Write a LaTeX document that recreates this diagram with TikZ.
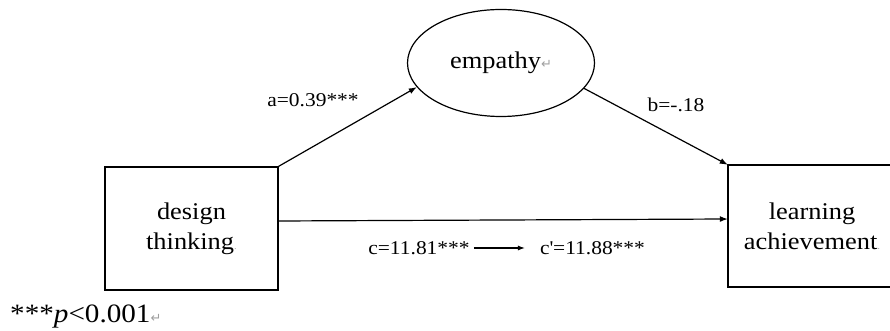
\documentclass[tikz,border=0pt]{standalone}
\usepackage{fontspec}
\setmainfont{Liberation Serif}[FakeStretch=1.1]
\newfontfamily\markfont{DejaVu Sans}
\usetikzlibrary{shapes.geometric,arrows.meta}
\newcommand{\pmark}{{\markfont\color{gray!75}\fontsize{13}{13}\selectfont ↵}}
\newcommand{\cmark}{{\color{gray!60}\fontsize{10}{10}\selectfont .}}
\tikzset{
  box/.style={draw, line width=1.4pt, rectangle, inner sep=0pt, align=center,
              font=\fontsize{24}{30}\selectfont},
  plain/.style={rectangle, inner sep=0pt, align=center,
              font=\fontsize{24}{30}\selectfont},
  oval/.style={draw, line width=1.2pt, ellipse, inner sep=0pt, align=center,
               font=\fontsize{24}{30}\selectfont},
  lab/.style={inner sep=0pt, font=\fontsize{19.5}{22}\selectfont},
  conn/.style={line width=1.2pt, -{Latex[length=8pt,width=6pt]}},
}
\begin{document}
\begin{tikzpicture}[x=1pt,y=1pt]
\useasboundingbox (0,0) rectangle (890,331);
\clip (0,0) rectangle (890,331);
\node[box, minimum width=173pt, minimum height=123pt] (dt) at (191.5,102.5) {design\\thinking\cmark};
\node[plain, minimum width=168pt, minimum height=122pt] (la) at (812,105) {learning\\achievement\cmark};
\draw[line width=1.5pt] (la.north west) rectangle ([xshift=40pt]la.south east);
\node[oval, minimum width=187pt, minimum height=107pt] (emp) at (501,268) {empathy\pmark};
\draw[conn] (dt.north east) -- (emp.196);
\draw[conn] (emp.343) -- (la.north west);
\draw[conn] ([yshift=7.5pt]dt.east) -- ([yshift=7pt]la.west);
\node[lab] (a) at (313,231) {a=0.39***};
\node[lab] (b) at (676,226) {b=-.18};
\node[lab] (c1) at (419,83) {c=11.81***};
\node[lab] (c2) at (592.5,83) {c\textquotesingle=11.88***};
\draw[line width=1.1pt, -{Latex[length=7pt,width=5pt]}] ([xshift=4pt]c1.east) -- ([xshift=-15pt]c2.west);
\node[inner sep=0pt, anchor=base west, font=\fontsize{26.5}{28}\selectfont] (fn) at (10,8) {***\textit{p}<0.001\pmark};
\end{tikzpicture}
\end{document}
